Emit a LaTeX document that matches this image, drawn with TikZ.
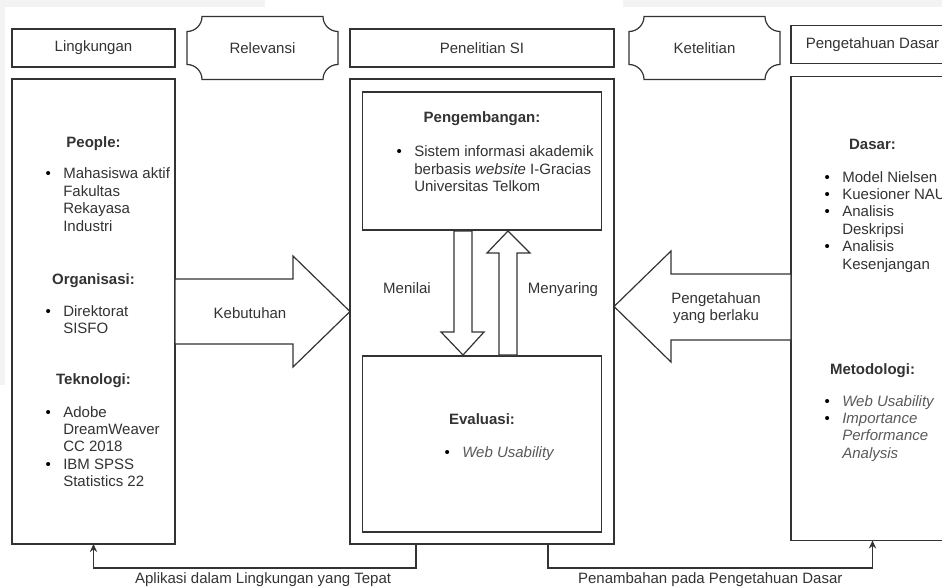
\documentclass[tikz,border=0pt]{standalone}
\usepackage{fontspec}
\setmainfont{Liberation Sans}
\usepackage{tikz}
\usetikzlibrary{positioning, arrows.meta}
\definecolor{ink}{HTML}{333333}
\definecolor{soft}{HTML}{5A5A5A}
\definecolor{sheet}{HTML}{F3F3F3}
\newcommand{\bul}{{\color{black}\textbullet}}
\newcommand{\softit}[1]{{\color{soft}\itshape #1}}
\newcommand{\blist}[1]{\begin{tabular}[t]{@{}l@{\hspace{9.3pt}}l@{}}#1\end{tabular}}

\begin{document}
\begin{tikzpicture}[x=0.75pt, y=-0.75pt,
    every node/.style={font=\fontsize{11.25}{13.1}\selectfont, text=ink},
    box/.style={rectangle, draw=ink, line width=0.9pt, fill=white,
      inner sep=0pt, outer sep=0pt, minimum width=122.25pt},
    hdbox/.style={box, minimum height=28.5pt},
    plaque/.style={rectangle, inner sep=0pt, outer sep=0pt,
      minimum width=113.25pt, minimum height=47.25pt},
    blk/.style={draw=ink, line width=0.9pt, fill=white, line join=miter},
    conn/.style={draw=ink, line width=0.9pt, -{Stealth[length=6pt, width=5.5pt]}},
    head/.style={font=\fontsize{11.25}{13.1}\selectfont\bfseries, anchor=base},
    lst/.style={anchor=base west, inner sep=0pt}]
  \useasboundingbox (0,0) rectangle (942,588);
  \clip (0,0) rectangle (942,588);
  \fill[sheet] (0,0) rectangle (265,7);
  \fill[sheet] (623,0) rectangle (942,7);
  \fill[sheet] (0,0) rectangle (5,385);

  % column heads
  \node[hdbox] (lingHd) at (93.5,48) {Lingkungan};
  \node[plaque, right=9pt of lingHd] (rel) {Relevansi};
  \node[hdbox, minimum width=198pt, right=9pt of rel] (penHd) {Penelitian SI};
  \node[plaque, right=11.25pt of penHd] (ket) {Ketelitian};
  \node[hdbox, right=8.25pt of ket, yshift=2.6pt] (dasHd) {Pengetahuan Dasar};
  \foreach \n in {rel,ket}
    \draw[draw=ink, line width=0.9pt] ([xshift=11.25pt]\n.north west) -- ([xshift=-11.25pt]\n.north east)
      arc[start angle=180, end angle=270, radius=11.25pt] -- ([yshift=11.25pt]\n.south east)
      arc[start angle=90, end angle=180, radius=11.25pt] -- ([xshift=11.25pt]\n.south west)
      arc[start angle=0, end angle=90, radius=11.25pt] -- ([yshift=-11.25pt]\n.north west)
      arc[start angle=270, end angle=360, radius=11.25pt] -- cycle;

  % columns
  \node[box, minimum height=348.75pt, below=9pt of lingHd] (ling) {};
  \node[box, minimum width=198pt, minimum height=348.75pt, below=9pt of penHd] (pen) {};
  \node[box, minimum height=348pt, below=9.75pt of dasHd] (das) {};
  \node[box, minimum width=179.25pt, minimum height=103.5pt, below=9.75pt of pen.north] (dev) {};
  \node[box, minimum width=179.25pt, minimum height=132pt, above=9pt of pen.south] (eva) {};

  % Lingkungan
  \node[head] (peopleHd) at (93.5,148) {People:};
  \node[lst] (peopleLs) at (45.4,179) {\blist{\bul & Mahasiswa aktif\\ & Fakultas\\ & Rekayasa\\ & Industri}};
  \node[head] (orgHd) at (93.5,284) {Organisasi:};
  \node[lst] (orgLs) at (45.4,316) {\blist{\bul & Direktorat\\ & SISFO}};
  \node[head] (tekHd) at (93.5,384) {Teknologi:};
  \node[lst] (tekLs) at (45.4,417) {\blist{\bul & Adobe\\ & DreamWeaver\\ & CC 2018\\ \bul & IBM SPSS\\ & Statistics 22}};

  % Penelitian SI
  \node[head] (devHd) at (482,123) {Pengembangan:};
  \node[lst] (devLs) at (396.4,157) {\blist{\bul & Sistem informasi akademik\\ & berbasis \textit{website} I-Gracias\\ & Universitas Telkom}};
  \node[head] (evaHd) at (482,424) {Evaluasi:};
  \node[lst] (evaLs) at (444.4,457) {\blist{\bul & \softit{Web Usability}}};

  % Pengetahuan Dasar
  \node[head] (dasarHd) at (872.5,150) {Dasar:};
  \node[lst] (dasarLs) at (824.4,182) {\blist{\bul & Model Nielsen\\ \bul & Kuesioner NAU\\ \bul & Analisis\\ & Deskripsi\\ \bul & Analisis\\ & Kesenjangan}};
  \node[head] (metHd) at (872.5,374) {Metodologi:};
  \node[lst] (metLs) at (824.4,406) {\blist{\bul & \softit{Web Usability}\\ \bul & \softit{Importance}\\ & \softit{Performance}\\ & \softit{Analysis}}};

  % block arrows
  \draw[blk] (175,279) -- (293,279) -- (293,256) -- (350,311.5) -- (293,367) -- (293,344) -- (175,344) -- cycle;
  \node (need) at (250,313) {Kebutuhan};
  \draw[blk] (791,274) -- (671,274) -- (671,251) -- (614,306.5) -- (671,362) -- (671,340) -- (791,340) -- cycle;
  \node[align=center] (known) at (716,308) {Pengetahuan\\yang berlaku};
  \draw[blk] (454,231) -- (454,332) -- (441,332) -- (463,355) -- (484,332) -- (472,332) -- (472,231) -- cycle;
  \draw[blk] (499,355) -- (499,253) -- (487,253) -- (508,231) -- (530,253) -- (517,253) -- (517,355) -- cycle;
  \node (rate) at (407,288) {Menilai};
  \node (filter) at (563,290) {Menyaring};

  % feedback
  \draw[conn] ([xshift=-49.5pt]pen.south) -- ++(0,24) -| (ling.south)
    node[pos=0.237, below] (apply) {Aplikasi dalam Lingkungan yang Tepat};
  \draw[conn] ([xshift=49.5pt]pen.south) -- ++(0,24) -| (das.south)
    node[pos=0.25, below] (add) {Penambahan pada Pengetahuan Dasar};
\end{tikzpicture}
\end{document}
